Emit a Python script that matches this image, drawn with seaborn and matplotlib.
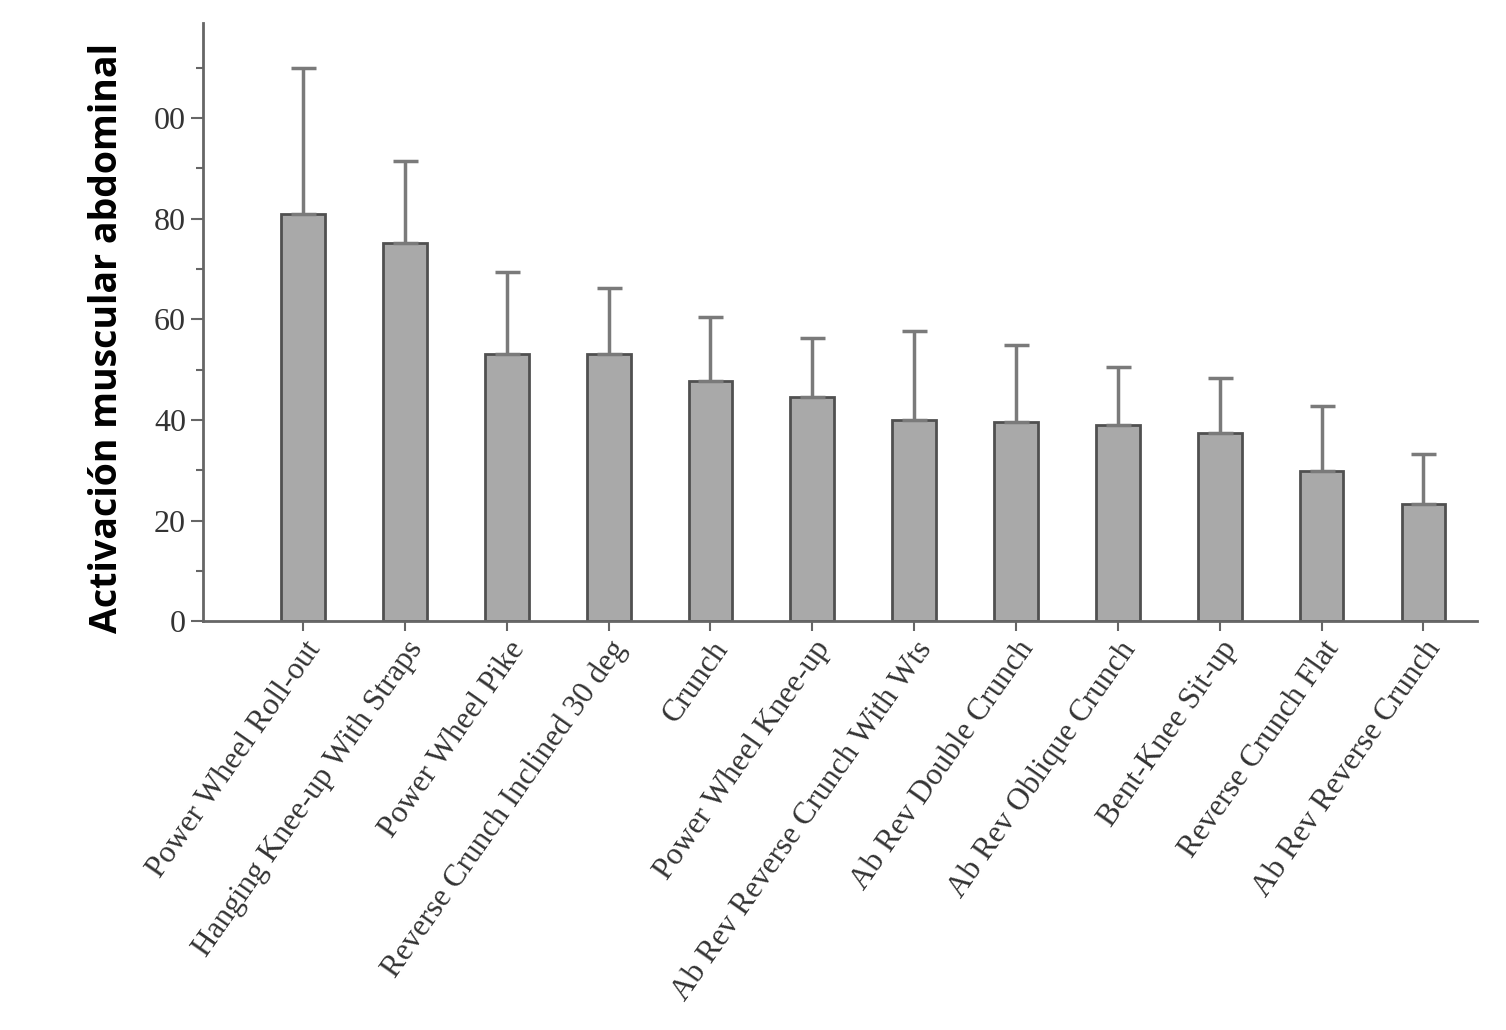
import matplotlib.pyplot as plt
import numpy as np
import pandas as pd
import seaborn as sns

# Exercises and mean / SD of abdominal muscle activation
exercises = ['Power Wheel Roll-out', 'Hanging Knee-up With Straps', 'Power Wheel Pike',
             'Reverse Crunch Inclined 30 deg', 'Crunch', 'Power Wheel Knee-up',
             'Ab Rev Reverse Crunch With Wts', 'Ab Rev Double Crunch', 'Ab Rev Oblique Crunch',
             'Bent-Knee Sit-up', 'Reverse Crunch Flat', 'Ab Rev Reverse Crunch']
means = [81, 75.2, 53.2, 53.2, 47.8, 44.6, 40.0, 39.5, 39.0, 37.5, 29.8, 23.2]
sds = [29.0, 16.3, 16.2, 13.1, 12.7, 11.7, 17.7, 15.5, 11.6, 10.9, 12.9, 10.1]
ytick_vals = [0, 20, 40, 60, 80, 100]
ytick_labels = ['0', '20', '40', '60', '80', '00']

df = pd.DataFrame({'exercise': exercises, 'mean': means, 'sd': sds})

sns.set_style('white')
plt.rcParams['font.family'] = ['Liberation Serif', 'DejaVu Serif']

fig = plt.figure(figsize=(15.06, 10.3), dpi=100)
ax = fig.add_axes([0.135, 0.397, 0.846, 0.581])

sns.barplot(data=df, x='exercise', y='mean', ax=ax, color='#a9a9a9',
            saturation=1, width=0.43, edgecolor='#505050', linewidth=2, errorbar=None)
ax.errorbar(np.arange(len(exercises)), df['mean'],
            yerr=[np.zeros(len(sds)), df['sd']], fmt='none',
            ecolor='#7a7a7a', elinewidth=2.5, capsize=9, capthick=2.5, zorder=1)

ax.set_xlim(-0.98, 11.53)
ax.set_ylim(0, 119)
ax.set_yticks(ytick_vals)
ax.set_yticklabels(ytick_labels)
ax.set_yticks([10, 30, 50, 70, 90, 110], minor=True)
ax.tick_params(axis='y', which='major', direction='out', length=9, width=1.5,
               color='#666666', labelsize=23, labelcolor='#333333', left=True)
ax.tick_params(axis='y', which='minor', direction='out', length=5, width=1.5,
               color='#666666', left=True)
ax.tick_params(axis='x', direction='out', length=7, width=1.5, color='#666666',
               labelsize=22.5, labelcolor='#333333', bottom=True)
plt.setp(ax.get_xticklabels(), rotation=55, ha='right', rotation_mode='anchor')

for s in ['top', 'right']:
    ax.spines[s].set_visible(False)
for s in ['left', 'bottom']:
    ax.spines[s].set_color('#666666')
    ax.spines[s].set_linewidth(2)

ax.set_xlabel('')
ax.set_ylabel('Activación muscular abdominal', fontsize=27, fontweight='bold',
              family=['Open Sans', 'DejaVu Sans'], color='black')
ax.yaxis.set_label_coords(-0.061, 0.473)

fig.savefig('out.png', dpi=100)
